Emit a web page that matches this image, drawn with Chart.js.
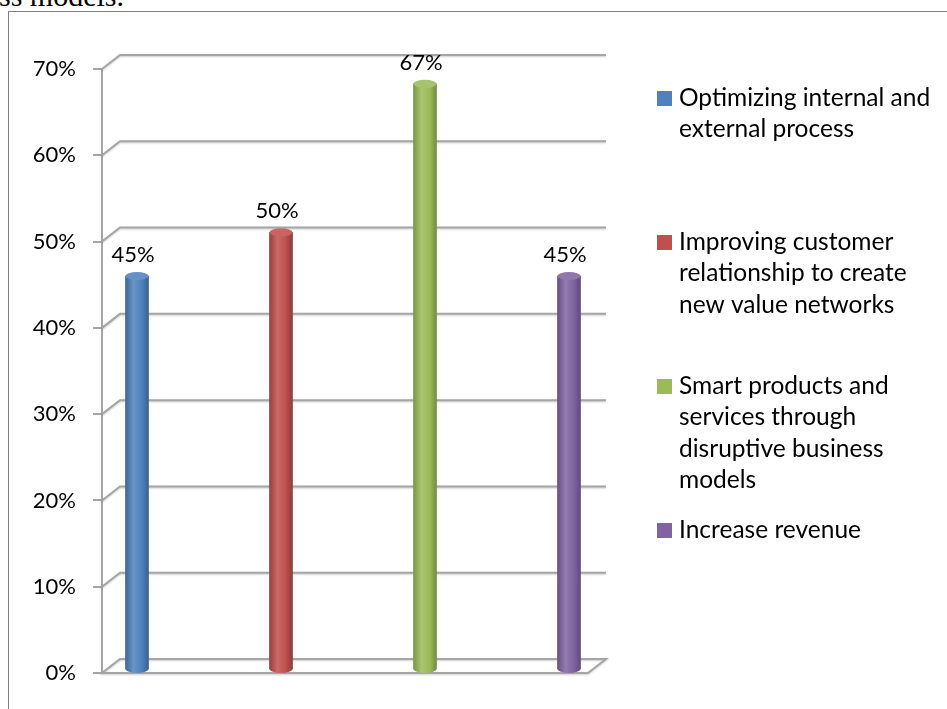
<!DOCTYPE html>
<html>
<head>
<meta charset="utf-8">
<script src="https://cdn.jsdelivr.net/npm/chart.js@4"></script>
<style>
html, body { margin: 0; padding: 0; background: #fff; overflow: hidden; }
#wrap { position: relative; width: 947px; height: 709px; overflow: hidden; }
#caption { position: absolute; left: -1px; top: -19px; font: 30px "Liberation Serif", serif; line-height: 30px; color: #000; white-space: nowrap; }
#frame { position: absolute; left: 8px; top: 11px; width: 960px; height: 720px; border-left: 1px solid #808080; border-top: 1px solid #808080; }
canvas { position: absolute; left: 0; top: 0; }
</style>
</head>
<body>
<div id="wrap">
  <div id="caption">ss models.</div>
  <div id="frame"></div>
  <canvas id="chart" width="947" height="709"></canvas>
</div>
<script>
// data
const categories = [
    'Optimizing internal and external process',
    'Improving customer relationship to create new value networks',
    'Smart products and services through disruptive business models',
    'Increase revenue'
];
const legendLines = [
    ['Optimizing internal and', 'external process'],
    ['Improving customer', 'relationship to create', 'new value networks'],
    ['Smart products and', 'services through', 'disruptive business', 'models'],
    ['Increase revenue']
];
const values = [45, 50, 67, 45];
const colors = ['#4f81bd', '#c0504d', '#9bbb59', '#8064a2'];
const yTicks = [0, 10, 20, 30, 40, 50, 60, 70];

const FONT = 'Lato';
const FONT_SIZE = 22;
const LEGEND_SIZE = 24.5;
const DEPTH_X = 18, DEPTH_Y = -14;

function shade(hex, f) {
    const n = parseInt(hex.slice(1), 16);
    let r = n >> 16, g = (n >> 8) & 255, b = n & 255;
    const t = f < 0 ? 0 : 255, p = Math.abs(f);
    r = Math.round(r + (t - r) * p);
    g = Math.round(g + (t - g) * p);
    b = Math.round(b + (t - b) * p);
    return `rgb(${r},${g},${b})`;
}

function cylGradient(ctx, x, w, col) {
    const g = ctx.createLinearGradient(x - w / 2, 0, x + w / 2, 0);
    g.addColorStop(0, shade(col, -0.2));
    g.addColorStop(0.35, shade(col, 0.15));
    g.addColorStop(0.7, col);
    g.addColorStop(1, shade(col, -0.25));
    return g;
}

function barFill(c) {
    const chart = c.chart;
    const col = colors[c.dataIndex];
    if (!chart.chartArea || !chart.scales.x) return col;
    const x = chart.scales.x.getPixelForValue(c.dataIndex);
    return cylGradient(chart.ctx, x, 23, col);
}

// back wall gridlines and floor, drawn in fake 3D
const wallPlugin = {
    id: 'wall',
    beforeDatasetsDraw(chart) {
        const { ctx, chartArea: a, scales: { y } } = chart;
        ctx.save();
        ctx.strokeStyle = '#a5a5a5';
        ctx.lineWidth = 2;
        ctx.shadowColor = 'rgba(0,0,0,0.2)';
        ctx.shadowBlur = 2;
        ctx.shadowOffsetY = 1;
        yTicks.forEach(v => {
            if (v === 0) return;
            const py = y.getPixelForValue(v);
            ctx.beginPath();
            ctx.moveTo(a.left, py);
            ctx.lineTo(a.left + DEPTH_X, py + DEPTH_Y);
            ctx.lineTo(a.right + DEPTH_X, py + DEPTH_Y);
            ctx.stroke();
        });
        const y0 = y.getPixelForValue(0);
        ctx.beginPath();
        ctx.moveTo(a.left, y0);
        ctx.lineTo(a.left + DEPTH_X, y0 + DEPTH_Y);
        ctx.lineTo(a.right + DEPTH_X, y0 + DEPTH_Y);
        ctx.lineTo(a.right, y0);
        ctx.closePath();
        ctx.stroke();
        ctx.restore();
    }
};

// rounded bottoms and caps on the cylinders, plus value labels
const capPlugin = {
    id: 'caps',
    afterDatasetsDraw(chart) {
        const ctx = chart.ctx;
        const meta = chart.getDatasetMeta(0);
        ctx.save();
        meta.data.forEach((el, i) => {
            const col = colors[i];
            const w = el.width;
            ctx.fillStyle = cylGradient(ctx, el.x, w, col);
            ctx.beginPath();
            ctx.ellipse(el.x, el.base, w / 2, 4, 0, 0, Math.PI);
            ctx.fill();
            ctx.fillStyle = shade(col, 0.12);
            ctx.beginPath();
            ctx.ellipse(el.x, el.y, w / 2, 4, 0, 0, Math.PI * 2);
            ctx.fill();
            ctx.fillStyle = '#000';
            ctx.font = `${FONT_SIZE}px ${FONT}`;
            ctx.textAlign = 'center';
            ctx.textBaseline = 'middle';
            ctx.fillText(values[i] + '%', el.x - 4, el.y - 21);
        });
        ctx.restore();
    }
};

const legendPlugin = {
    id: 'sideLegend',
    afterDraw(chart) {
        const ctx = chart.ctx;
        ctx.save();
        ctx.font = `${LEGEND_SIZE}px ${FONT}`;
        ctx.textAlign = 'left';
        ctx.textBaseline = 'middle';
        legendLines.forEach((lines, i) => {
            const top = 98 + 144 * i;
            ctx.fillStyle = colors[i];
            ctx.fillRect(657, top - 7, 15, 15);
            ctx.fillStyle = '#000';
            lines.forEach((t, j) => ctx.fillText(t, 679, top + 31.5 * j));
        });
        ctx.restore();
    }
};

new Chart(document.getElementById('chart'), {
    type: 'bar',
    data: {
        labels: categories,
        datasets: [{
            data: values.map((v, i) => ({ x: i, y: v })),
            yAxisID: 'yBar',
            backgroundColor: barFill,
            borderWidth: 0,
            barThickness: 23
        }]
    },
    options: {
        responsive: false,
        animation: false,
        layout: { padding: { left: 0, top: 69, right: 359, bottom: 36 } },
        plugins: {
            legend: { display: false },
            tooltip: { enabled: false }
        },
        scales: {
            x: { type: 'linear', min: -0.243, max: 3.132, offset: false, display: false },
            y: {
                position: 'left',
                min: 0,
                max: 70,
                ticks: {
                    stepSize: 10,
                    callback: v => v + '%',
                    color: '#000',
                    padding: 17,
                    font: { family: FONT, size: FONT_SIZE }
                },
                grid: { drawOnChartArea: false, drawTicks: true, tickLength: 9, color: '#a5a5a5', lineWidth: 2 },
                border: { display: true, color: '#a5a5a5', width: 2 },
                afterFit(s) { s.width = 102; }
            },
            // bars stand a little behind the front plane, so their scale is slightly shifted
            yBar: { display: false, min: -0.46, max: 68.7 }
        }
    },
    plugins: [wallPlugin, capPlugin, legendPlugin]
});
</script>
</body>
</html>
